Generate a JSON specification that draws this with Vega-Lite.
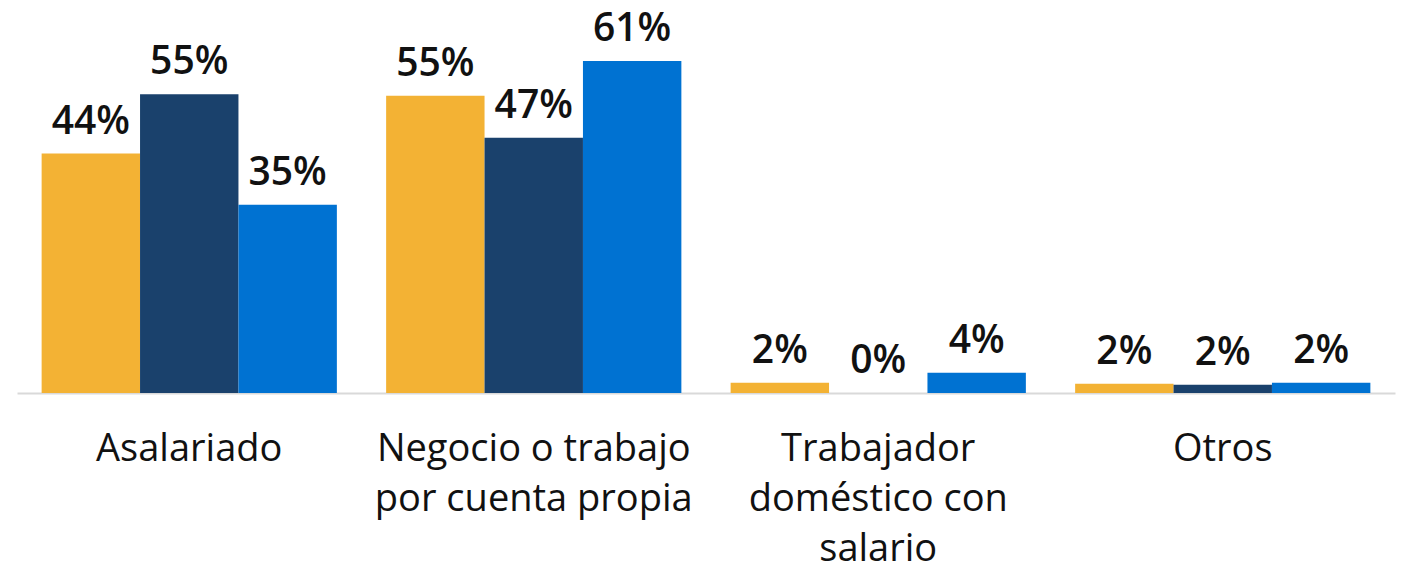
{
  "$schema": "https://vega.github.io/schema/vega-lite/v6.json",
  "autosize": "none",
  "width": 1378,
  "height": 381,
  "padding": {"left": 17, "top": 12, "right": 7, "bottom": 179},
  "background": "white",
  "data": {"values": [
    {"cat": "Asalariado", "serie": "Serie 1", "v": 0.440},
    {"cat": "Asalariado", "serie": "Serie 2", "v": 0.549},
    {"cat": "Asalariado", "serie": "Serie 3", "v": 0.346},
    {"cat": "Negocio o trabajo|por cuenta propia", "serie": "Serie 1", "v": 0.546},
    {"cat": "Negocio o trabajo|por cuenta propia", "serie": "Serie 2", "v": 0.469},
    {"cat": "Negocio o trabajo|por cuenta propia", "serie": "Serie 3", "v": 0.610},
    {"cat": "Trabajador|doméstico con|salario", "serie": "Serie 1", "v": 0.019},
    {"cat": "Trabajador|doméstico con|salario", "serie": "Serie 2", "v": 0.0},
    {"cat": "Trabajador|doméstico con|salario", "serie": "Serie 3", "v": 0.037},
    {"cat": "Otros", "serie": "Serie 1", "v": 0.017},
    {"cat": "Otros", "serie": "Serie 2", "v": 0.015},
    {"cat": "Otros", "serie": "Serie 3", "v": 0.019}
  ]},
  "encoding": {
    "x": {"field": "cat", "type": "nominal", "sort": null,
      "scale": {"paddingInner": 0.143, "paddingOuter": 0.0715},
      "axis": {"title": null, "labelAngle": 0, "ticks": false, "domainColor": "#d9d9d9", "domainWidth": 2,
        "labelFont": "Open Sans", "labelFontSize": 38, "labelColor": "#111111", "labelPadding": 37,
        "labelLineHeight": 50, "labelLimit": 0, "labelExpr": "split(datum.label, '|')", "labelBaseline": "top"}},
    "xOffset": {"field": "serie", "type": "nominal", "scale": {"paddingInner": 0, "paddingOuter": 0}},
    "y": {"field": "v", "type": "quantitative", "scale": {"domain": [0, 0.7]}, "axis": null}
  },
  "layer": [
    {"mark": {"type": "bar"},
     "encoding": {"color": {"field": "serie", "type": "nominal", "legend": null,
       "scale": {"range": ["#F3B234", "#1A416C", "#0072D2"]}}}},
    {"mark": {"type": "text", "baseline": "alphabetic", "dy": -20, "font": "Open Sans", "fontSize": 39, "fontWeight": 600, "color": "#111111"},
     "encoding": {"text": {"field": "v", "type": "quantitative", "format": ".0%"}}}
  ],
  "config": {"view": {"stroke": null}}
}
